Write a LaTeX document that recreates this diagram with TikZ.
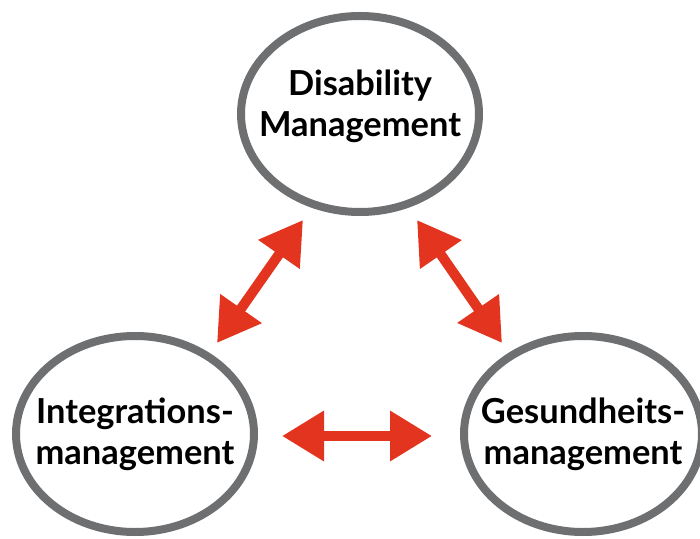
\documentclass[tikz,border=0pt]{standalone}
\usepackage{fontspec}
\setmainfont{Lato}
\usepackage{tikz}
\usetikzlibrary{arrows.meta,shapes.geometric}
\definecolor{ringgray}{RGB}{110,111,113}
\definecolor{arrowred}{RGB}{226,52,30}

\begin{document}
\begin{tikzpicture}[
  >={Triangle[length=1.05cm,width=1.2cm]},
  ring/.style={draw=ringgray,ellipse,line width=0.2cm,minimum width=5.95cm,minimum height=4.9cm,inner sep=0,fill=white},
  ringtext/.style={align=center,inner sep=0,font=\bfseries\fontsize{24.5}{29}\selectfont},
  twoway/.style={<->,draw=arrowred,line width=0.25cm}
  ]
  \useasboundingbox (0, 0) rectangle (17.5, 13.45);

  \node [ring,label={[ringtext,yshift=0.2cm]center:{Disability\\Management}}] (dm) at (9, 10.6) {};
  \node [ring,label={[ringtext]center:{Integrations-\\management}}] (im) at (3.375, 2.6) {};
  \node [ring,label={[ringtext]center:{Gesundheits-\\management}}] (gm) at (14.575, 2.6) {};

  \coordinate (dm-l) at (7.575, 7.95);
  \coordinate (dm-r) at (10.425, 7.95);
  \coordinate (im-t) at (5.425, 4.875);
  \coordinate (gm-t) at (12.55, 4.875);
  \coordinate (im-r) at (7.05, 2.55);
  \coordinate (gm-l) at (10.8, 2.55);

  \draw[twoway] (im-t) -- (dm-l);
  \draw[twoway] (dm-r) -- (gm-t);
  \draw[twoway] (im-r) -- (gm-l);

\end{tikzpicture}
\end{document}
